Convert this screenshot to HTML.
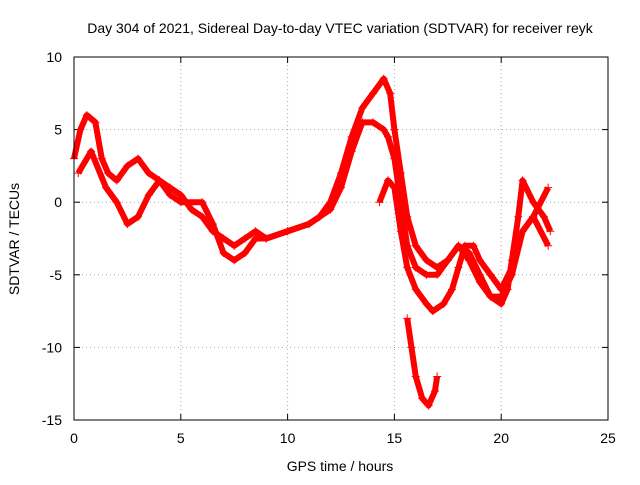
<!DOCTYPE html>
<html><head><meta charset="utf-8"><style>
body{margin:0;background:#fff;width:640px;height:480px;overflow:hidden;font-family:"Liberation Sans",sans-serif}
</style></head><body>
<svg id="chart" width="640" height="480" xmlns="http://www.w3.org/2000/svg" font-family="Liberation Sans, sans-serif">
<text x="340" y="33" font-size="14" text-anchor="middle">Day 304 of 2021, Sidereal Day-to-day VTEC variation (SDTVAR) for receiver reyk</text>
<text x="340" y="471" font-size="14" text-anchor="middle">GPS time / hours</text>
<text x="19" y="239" font-size="14" text-anchor="middle" transform="rotate(-90 19 239)">SDTVAR / TECUs</text>
<g id="grid"></g><g id="marks"></g>
<rect x="74" y="57" width="534" height="363" fill="none" stroke="#000" stroke-width="1"/>
</svg>
<script>
const xTicks=[0,5,10,15,20,25];
const yTicks=[10,5,0,-5,-10,-15];
const trackAx=[0,0.3,0.6,1,1.3,1.6,2,2.5,3,3.5,4,4.5,5,5.5,6,6.5,7,7.5,8,8.5,9,10,11,11.5,12,12.5,13,13.5,14,14.5,14.8,15,15.3,15.6,16,16.5,17,17.5,18,18.5,19,19.5,20,20.3,20.5,20.8,21,21.5,22,22.3];
const trackAy=[3,5,6,5.5,3,2,1.5,2.5,3,2,1.5,1,0.5,-0.5,-1,-2,-2.5,-3,-2.5,-2,-2.5,-2,-1.5,-1,0,2,4.5,6.5,7.5,8.5,7.5,5,2,-1,-3,-4,-4.5,-4,-3,-3.5,-5,-6.5,-7,-6,-4,-1,1.5,0,-1,-2];
const trackBx=[0.2,0.8,1.5,2,2.5,3,3.5,4,4.5,5,6,6.5,7,7.5,8,8.5,9,10,11,12,12.5,13,13.5,14,14.5,14.7,15,15.3,15.6,16,16.5,17,17.5,18,18.5,19,19.5,20,20.5,21,21.5,22.2];
const trackBy=[2,3.5,1,0,-1.5,-1,0.5,1.5,0.5,0,0,-1.5,-3.5,-4,-3.5,-2.5,-2.5,-2,-1.5,-0.5,1,3.5,5.5,5.5,5,4.5,3,0,-3,-4.5,-5,-5,-4,-3,-4,-5.5,-6.5,-6.5,-5,-2,-1,-3];
const trackCx=[14.3,14.7,15,15.3,15.6,16,16.5,16.8,17.3,17.7,18,18.3,18.7,19,19.5,20,20.5,21,21.5,22.2];
const trackCy=[0,1.5,1,-2,-4.5,-6,-7,-7.5,-7,-6,-4.5,-3,-3,-4,-5,-6,-4.5,-2,-1,1];
const trackDx=[15.6,15.8,16,16.3,16.6,16.9,17];
const trackDy=[-8,-10,-12,-13.5,-14,-13,-12];
const NS="http://www.w3.org/2000/svg";
const sx=h=>74+h*534/25, sy=v=>57+(10-v)*363/25;
const grid=document.getElementById('grid'), marks=document.getElementById('marks');
function mk(t,a,p){const e=document.createElementNS(NS,t);for(const k in a)e.setAttribute(k,a[k]);p.appendChild(e);return e;}
xTicks.forEach(t=>{const x=sx(t);
 if(t>0&&t<25){const g=mk('line',{x1:x,y1:57,x2:x,y2:420,stroke:'#aaa','stroke-dasharray':'1,3'},grid);
 
 }
 mk('line',{x1:x,y1:420,x2:x,y2:414,stroke:'#000'},grid);mk('line',{x1:x,y1:57,x2:x,y2:63,stroke:'#000'},grid);
 const l=mk('text',{x:x,y:443,'font-size':14,'text-anchor':'middle'},grid);l.textContent=t;
 
 });
yTicks.forEach(t=>{const y=sy(t);
 if(t<10&&t>-15){const g=mk('line',{x1:74,y1:y,x2:608,y2:y,stroke:'#aaa','stroke-dasharray':'1,3'},grid);
 
 }
 mk('line',{x1:74,y1:y,x2:80,y2:y,stroke:'#000'},grid);mk('line',{x1:608,y1:y,x2:602,y2:y,stroke:'#000'},grid);
 const l=mk('text',{x:62,y:y+5,'font-size':14,'text-anchor':'end'},grid);l.textContent=t;
 
 });
[[trackAx,trackAy],[trackBx,trackBy],[trackCx,trackCy],[trackDx,trackDy]].forEach((tr,i)=>{
 const pts=tr[0].map((h,j)=>sx(h)+','+sy(tr[1][j])).join(' ');
 const pl=mk('polyline',{points:pts,fill:'none',stroke:'#f00','stroke-width':6,'stroke-linejoin':'round'},marks);
 
 
 tr[0].forEach((h,j)=>{const x=sx(h),y=sy(tr[1][j]);
  const p=mk('path',{d:`M${x-4},${y}H${x+4}M${x},${y-4}V${y+4}`,stroke:'#f00','stroke-width':1},marks);
  
  });
});
</script>
</body></html>
